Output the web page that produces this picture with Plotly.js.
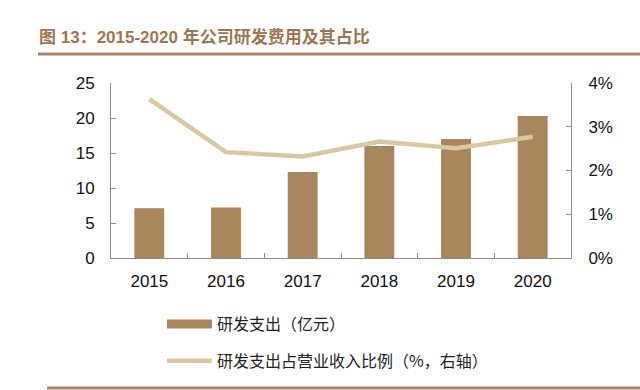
<!DOCTYPE html>
<html>
<head>
<meta charset="utf-8">
<script src="https://cdn.plot.ly/plotly-3.0.1.min.js"></script>
<style>html,body{margin:0;padding:0;background:#fff;}#chart{width:640px;height:390px;}</style>
</head>
<body>
<div id="chart"></div>
<script>
const years = ['2015', '2016', '2017', '2018', '2019', '2020'];
const rdExpense = [7.1, 7.2, 12.3, 16.0, 17.0, 20.3];
const rdRatio = [0.0363, 0.0242, 0.0232, 0.0266, 0.0251, 0.0277];
const leftTicks = [0, 5, 10, 15, 20, 25];
const rightTicks = [0, 0.01, 0.02, 0.03, 0.04];
const rightTickText = ['0%', '1%', '2%', '3%', '4%'];
const barName = '研发支出（亿元）';
const lineName = '研发支出占营业收入比例（%，右轴）';

const barColor = '#A8865E';
const lineColor = '#D8C8A2';
const axisColor = '#8C8C8C';
const tickFont = {family: 'Liberation Sans, Arial, sans-serif', size: 17, color: '#111'};

const traces = [
  {type: 'bar', x: years, y: rdExpense, marker: {color: barColor}, showlegend: false, yaxis: 'y', hoverinfo: 'skip'},
  {type: 'scatter', mode: 'lines', x: [null], y: [null], name: barName, legendgroup: 'a',
   line: {color: barColor, width: 9}, showlegend: true, hoverinfo: 'skip'},
  {type: 'scatter', mode: 'lines', x: years, y: rdRatio, name: lineName, legendgroup: 'b',
   line: {color: lineColor, width: 4.5}, yaxis: 'y2', hoverinfo: 'skip'}
];

const layout = {
  width: 640, height: 390,
  margin: {l: 111, r: 69, t: 83, b: 132},
  paper_bgcolor: '#fff', plot_bgcolor: '#fff',
  bargap: 0.61,
  title: {text: '图 13：2015-2020 年公司研发费用及其占比', x: 39/640, xanchor: 'left', xref: 'container',
          y: 1 - 37/390, yanchor: 'middle', yref: 'container',
          font: {family: 'Liberation Sans, Noto Sans CJK SC, sans-serif', size: 17, color: '#9C7752', weight: 700}},
  xaxis: {type: 'category', tickson: 'boundaries', ticks: 'inside', ticklen: 5, tickcolor: axisColor,
          showline: true, linecolor: axisColor, linewidth: 1, showgrid: false, zeroline: false,
          tickfont: tickFont, ticklabelstandoff: 8, fixedrange: true},
  yaxis: {range: [0, 25], tickvals: leftTicks, ticks: 'inside', ticklen: 5, tickcolor: axisColor,
          showline: true, linecolor: axisColor, linewidth: 1, showgrid: false, zeroline: false,
          tickfont: tickFont, ticklabelstandoff: 12},
  yaxis2: {range: [0, 0.04], tickvals: rightTicks, ticktext: rightTickText, overlaying: 'y', side: 'right',
           ticks: 'inside', ticklen: 5, tickcolor: axisColor, showline: true, linecolor: axisColor, linewidth: 1,
           showgrid: false, zeroline: false, tickfont: tickFont, ticklabelstandoff: 13},
  showlegend: true,
  legend: {x: (162-111)/460, xanchor: 'left', y: (258-307)/175, yanchor: 'top', orientation: 'v',
           bgcolor: 'rgba(0,0,0,0)', tracegroupgap: 13, itemwidth: 45,
           font: {family: 'Noto Sans CJK SC, sans-serif', size: 16, color: '#222'}},
  shapes: [
    {type: 'line', xref: 'paper', yref: 'paper', x0: (38-111)/460, x1: (640-111)/460,
     y0: (258-54)/175, y1: (258-54)/175, line: {color: '#A3866A', width: 3}},
    {type: 'line', xref: 'paper', yref: 'paper', x0: (47-111)/460, x1: (640-111)/460,
     y0: (258-388)/175, y1: (258-388)/175, line: {color: '#A3866A', width: 3}}
  ]
};

Plotly.newPlot('chart', traces, layout, {displayModeBar: false, staticPlot: true});
</script>
</body>
</html>
